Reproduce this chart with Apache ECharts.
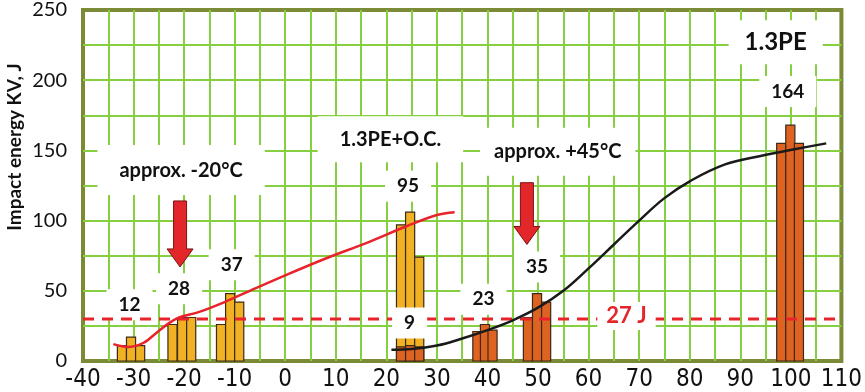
<!DOCTYPE html>
<html><head><meta charset="utf-8">
<script src="https://cdn.jsdelivr.net/npm/echarts@6/dist/echarts.min.js"></script>
<style>html,body{margin:0;padding:0;background:#fff}#c{width:865px;height:392px}</style>
</head><body><div id="c"></div>
<script>
// ---- data ----
const yellowX = [-32.3, -30.5, -28.7, -22.3, -20.4, -18.6, -12.7, -10.9, -9.1, 22.9, 24.7, 26.5];
const yellowY = [11, 17, 11, 26, 31, 31, 26, 48, 42, 97, 106, 74];
const orangeX = [22.9, 24.7, 26.5, 38.0, 39.5, 41.0, 48.0, 49.8, 51.6, 98.1, 99.9, 101.6];
const orangeY = [10, 11, 10, 21, 26, 22, 31, 48, 42, 155, 168, 155];
const redCurveX = [-34, -31, -28, -25.5, -23, -21, -17, -12, -7, 0, 8, 16, 24, 30, 33.5];
const redCurveY = [12, 10, 13, 20, 27, 31, 35, 42, 50, 61, 73, 84, 96, 104, 106];
const blackCurveX = [21, 25, 30, 35, 40, 45, 50, 55, 60, 65, 70, 75, 80, 87, 94, 101, 107];
const blackCurveY = [8, 8.5, 11, 16, 22, 29, 38, 50, 66, 83, 100, 116, 128, 140, 146, 151, 155];
const thresholdJ = 30;
const groupLabels = ['12', '28', '37', '95', '9', '23', '35', '164'];
const noteTexts = ['approx. -20°C', '1.3PE+O.C.', 'approx. +45°C', '1.3PE', '27 J'];
const arrowX = [-20.8, 47.8];
const arrowTopY = [114, 127];
const arrowTipY = [67, 83];
const yName = 'Impact energy KV, J';

// ---- layout (data coordinates of text anchors) ----
const groupLabelPos = [[-30.8, 40], [-21, 51.5], [-10.6, 68.5], [24.3, 124.5], [24.6, 27], [39.2, 44], [49.8, 67], [99.4, 192]];
const frontLabel = [false, false, false, false, true, false, false, false];
const notePos = [[-20.6, 136], [20.8, 158], [53.9, 149], [97, 227], [67.5, 32]];
const noteStyle = [
  {fontSize: 20, padding: [15, 22], color: '#111'},
  {fontSize: 20, padding: [13, 22], color: '#111'},
  {fontSize: 20, padding: [14, 14], color: '#111'},
  {fontSize: 24, padding: [10, 16], color: '#111'},
  {fontSize: 22, padding: [3, 9], color: '#e3262a'}
];
const BW = 1.8;

function bars(xs, ys, color, name) {
  return {
    type: 'custom', name: name, z: 3,
    data: xs.map((x, i) => [x, ys[i]]),
    renderItem: function (params, api) {
      const x = api.value(0), y = api.value(1);
      const p0 = api.coord([x - BW / 2, y]);
      const p1 = api.coord([x + BW / 2, 0]);
      return {type: 'rect', shape: {x: p0[0], y: p0[1], width: p1[0] - p0[0], height: p1[1] - p0[1]},
        style: {fill: color, stroke: '#3a2a16', lineWidth: 1.2}};
    }
  };
}
function numLabels(front, z) {
  return {
    type: 'scatter', z: z, symbolSize: 0, silent: true, itemStyle: {opacity: 1},
    data: groupLabels.map((t, i) => ({value: groupLabelPos[i], name: t})).filter((d, i) => frontLabel[i] === front),
    label: {show: true, position: 'inside', formatter: '{b}', fontSize: 19, fontWeight: 'bold', color: '#111',
      fontFamily: 'Lato, sans-serif', backgroundColor: '#fff', padding: [6, 12]}
  };
}

const gridGreen = {color: '#86cf40', width: 2};
const chart = echarts.init(document.getElementById('c'));
chart.setOption({
  animation: false,
  grid: {left: 83, right: 17, top: 10, bottom: 31, show: true, borderColor: '#7b8a36', borderWidth: 4, backgroundColor: 'transparent'},
  xAxis: {
    type: 'value', min: -40, max: 110, interval: 10,
    axisLine: {show: false}, axisTick: {show: false},
    axisLabel: {margin: 7, fontSize: 24, color: '#111', fontFamily: '"Liberation Sans Narrow","DejaVu Sans Condensed",sans-serif'},
    splitLine: {show: true, showMinLine: false, showMaxLine: false, lineStyle: gridGreen},
    minorTick: {show: false, splitNumber: 2},
    minorSplitLine: {show: true, lineStyle: gridGreen}
  },
  yAxis: {
    type: 'value', min: 0, max: 250, interval: 50,
    axisLine: {show: false}, axisTick: {show: false},
    axisLabel: {margin: 16, fontSize: 20, color: '#111', fontFamily: 'Lato, sans-serif'},
    splitLine: {show: true, showMinLine: false, showMaxLine: false, lineStyle: gridGreen},
    minorTick: {show: false, splitNumber: 2},
    minorSplitLine: {show: true, lineStyle: gridGreen}
  },
  graphic: [{
    type: 'text', x: 15, y: 147, rotation: Math.PI / 2,
    style: {text: yName, fontSize: 19, fontWeight: 'bold', fontFamily: 'Lato, sans-serif', fill: '#111', align: 'center', verticalAlign: 'middle'}
  }],
  series: [
    bars(yellowX, yellowY, '#f0b224', '1.3PE+O.C.'),
    bars(orangeX, orangeY, '#de6322', '1.3PE'),
    numLabels(false, 4),
    {
      type: 'line', z: 5, data: [[-40, thresholdJ], [110, thresholdJ]], symbol: 'none',
      lineStyle: {color: '#e8232b', width: 3, type: [11, 8]}
    },
    {
      type: 'line', z: 6, smooth: 0.35, symbol: 'none',
      data: redCurveX.map((x, i) => [x, redCurveY[i]]),
      lineStyle: {color: '#e8232b', width: 2.5}
    },
    {
      type: 'line', z: 6, smooth: 0.4, symbol: 'none',
      data: blackCurveX.map((x, i) => [x, blackCurveY[i]]),
      lineStyle: {color: '#1a1a1a', width: 2.5}
    },
    {
      type: 'custom', z: 8,
      data: arrowX.map((x, i) => [x, arrowTopY[i], arrowTipY[i]]),
      renderItem: function (params, api) {
        const t = api.coord([api.value(0), api.value(1)]);
        const b = api.coord([api.value(0), api.value(2)]);
        const cx = t[0], sw = 6.5, hw = 13, hl = 18;
        const hy = b[1] - hl;
        return {type: 'polygon', shape: {points: [[cx - sw, t[1]], [cx + sw, t[1]], [cx + sw, hy], [cx + hw, hy], [cx, b[1]], [cx - hw, hy], [cx - sw, hy]]},
          style: {fill: '#e3262a', stroke: '#7a1414', lineWidth: 1}};
      }
    },
    numLabels(true, 10),
    {
      type: 'scatter', z: 10, symbolSize: 0, silent: true, itemStyle: {opacity: 1},
      data: noteTexts.map((t, i) => ({value: notePos[i], name: t,
        label: {fontSize: noteStyle[i].fontSize, padding: noteStyle[i].padding, color: noteStyle[i].color}})),
      label: {show: true, position: 'inside', formatter: '{b}', fontWeight: 'bold',
        fontFamily: 'Lato, sans-serif', backgroundColor: '#fff'}
    }
  ]
});
</script></body></html>
